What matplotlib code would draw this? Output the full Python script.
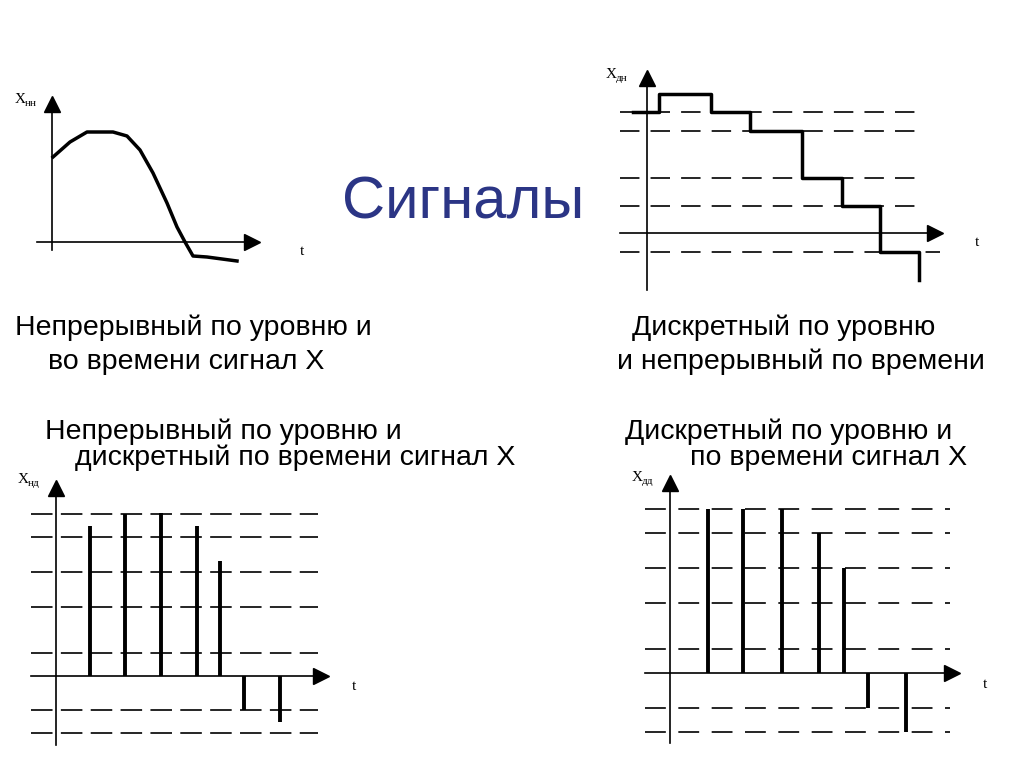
import matplotlib
matplotlib.use("Agg")
import matplotlib.pyplot as plt

W, H = 1024, 767
# ---- data (local units) ----
# Panel 1: continuous signal
p1_t = [0.1, 1.8, 3.5, 6.1, 7.5, 8.8, 10.1, 11.5, 12.5, 13.3, 14.1, 15.5, 18.5]
p1_x = [8.5, 10.0, 11.0, 11.0, 10.6, 9.2, 6.9, 3.9, 1.5, 0.0, -1.4, -1.5, -1.9]
# Panel 2: discrete level, continuous time
p2_levels = [12.1, 10.2, 5.5, 2.7, -1.9]
p2_t = [-1.4, 1.2, 6.4, 10.3, 15.5, 19.5, 23.3, 27.2, 27.2]
p2_x = [12.1, 13.9, 12.1, 10.2, 5.5, 2.7, -1.9, -1.9, -4.7]
# Panel 3: continuous level, discrete time
p3_levels = [16.2, 13.9, 10.4, 6.9, 2.3, -3.4, -5.7]
p3_t = [3.4, 6.9, 10.5, 14.1, 16.4, 18.8, 22.4]
p3_x = [15.0, 16.2, 16.3, 15.0, 11.5, -3.4, -4.6]
# Panel 4: discrete level and time
p4_levels = [16.4, 14.0, 10.5, 7.0, 2.4, -3.5, -5.9]
p4_t = [3.8, 7.3, 11.2, 14.9, 17.4, 19.8, 23.6]
p4_x = [16.4, 16.4, 16.4, 14.0, 10.5, -3.5, -5.9]

fig = plt.figure(figsize=(W/100, H/100), dpi=100)
fig.patch.set_facecolor("white")

def ftext(px, py, s, **kw):
    fig.text(px/W, 1-py/H, s, **kw)

def panel(ox, oy, x0, x1, y0, y1):
    left = (ox + x0*10)/W
    bottom = 1 - (oy - y0*10)/H
    w = (x1-x0)*10/W
    h = (y1-y0)*10/H
    ax = fig.add_axes([left, bottom, w, h])
    ax.set_xlim(x0, x1); ax.set_ylim(y0, y1)
    ax.axis("off")
    return ax

def axes_arrows(ax, xa0, xa1, ya0, ya1):
    ax.plot([xa0, xa1], [0, 0], color="black", lw=1.2, clip_on=False)
    ax.plot([0, 0], [ya0, ya1], color="black", lw=1.2, clip_on=False)
    ax.plot([xa1], [0], marker=">", color="black", ms=11, clip_on=False)
    ax.plot([0], [ya1], marker="^", color="black", ms=11, clip_on=False)

def dashed(ax, levels, xa, xb, dash, gap, lw=1.2):
    for lv in levels:
        ax.plot([xa, xb], [lv, lv], color="black", lw=lw,
                linestyle=(0, (dash/lw, gap/lw)), clip_on=False)

def xlabel(px, py, sub):
    ftext(px, py, "X", fontfamily="Liberation Serif", fontsize=11, va="baseline")
    ftext(px+10, py+3, sub, fontfamily="Liberation Serif", fontsize=8, va="baseline")

# Panel 1
ax1 = panel(52, 242, -1.5, 22, -2.5, 15)
axes_arrows(ax1, -1.5, 20.0, -0.8, 13.8)
ax1.plot(p1_t, p1_x, color="black", lw=2.5, clip_on=False)
xlabel(15, 103, "нн")
ftext(300, 255, "t", fontfamily="Liberation Serif", fontsize=11)

# Panel 2
ax2 = panel(647, 233, -3, 30, -6, 17)
dashed(ax2, p2_levels[:-1], -2.7, 27.4, 14, 8)
dashed(ax2, p2_levels[-1:], -2.7, 29.3, 14, 8)
axes_arrows(ax2, -2.7, 28.8, -5.7, 15.5)
ax2.plot(p2_t, p2_x, color="black", lw=2.5, drawstyle="steps-post", clip_on=False)
xlabel(606, 78, "дн")
ftext(975, 246, "t", fontfamily="Liberation Serif", fontsize=11)

# Panel 3
ax3 = panel(56, 676, -3, 29, -7.5, 20)
dashed(ax3, p3_levels, -2.5, 26.2, 15.5, 6)
axes_arrows(ax3, -2.5, 26.5, -6.9, 18.8)
ax3.vlines(p3_t, 0, p3_x, color="black", lw=2.8)
xlabel(18, 483, "нд")
ftext(352, 690, "t", fontfamily="Liberation Serif", fontsize=11)

# Panel 4
ax4 = panel(670, 673, -3, 31, -7.5, 20)
dashed(ax4, p4_levels, -2.5, 28.0, 15, 9)
axes_arrows(ax4, -2.5, 28.2, -7.0, 19.0)
ax4.vlines(p4_t, 0, p4_x, color="black", lw=2.8)
xlabel(632, 481, "дд")
ftext(983, 688, "t", fontfamily="Liberation Serif", fontsize=11)

# Titles
ftext(463, 203, "Сигналы", fontfamily="Liberation Sans", fontsize=43,
      color="#2b3585", ha="center", va="center")
tk = dict(fontfamily="Liberation Sans", fontsize=20.5, va="center", color="black")
ftext(15, 328, "Непрерывный по уровню и", **tk)
ftext(48, 362, "во времени сигнал X", **tk)
ftext(632, 328, "Дискретный по уровню", **tk)
ftext(617, 362, "и непрерывный по времени", **tk)
ftext(45, 432, "Непрерывный по уровню и", **tk)
ftext(75, 458, "дискретный по времени сигнал X", **tk)
ftext(625, 432, "Дискретный по уровню и", **tk)
ftext(690, 458, "по времени сигнал X", **tk)

fig.savefig("out.png", dpi=100, facecolor="white")
